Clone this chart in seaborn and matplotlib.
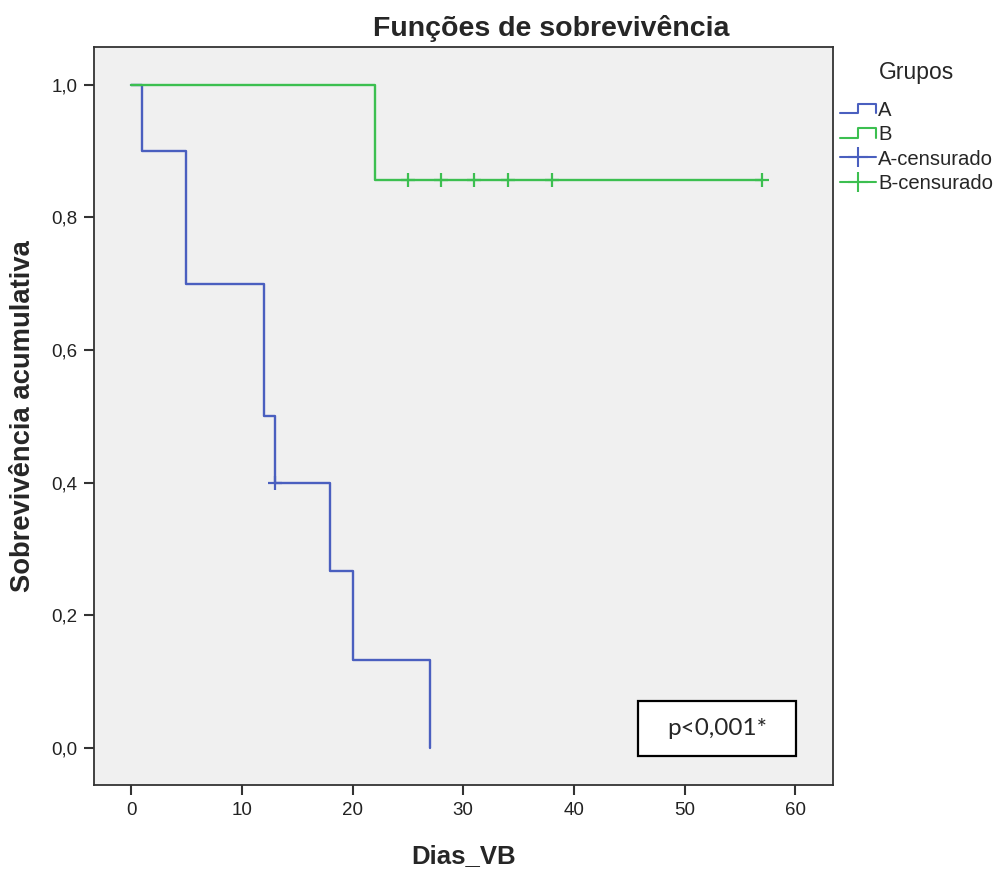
import matplotlib
matplotlib.use("Agg")
import matplotlib.pyplot as plt
import pandas as pd
import seaborn as sns
from matplotlib.legend_handler import HandlerBase
from matplotlib.lines import Line2D
from matplotlib.patches import Rectangle
from matplotlib.ticker import FuncFormatter

# Kaplan-Meier step points
a_time = [0, 1, 5, 12, 13, 18, 20, 27]
a_surv = [1.0, 0.9, 0.7, 0.5, 0.4, 0.267, 0.133, 0.0]
b_time = [0, 22, 57]
b_surv = [1.0, 0.857, 0.857]

# censored observations
a_cens_time = [13]
a_cens_surv = [0.4]
b_cens_time = [25, 28, 31, 34, 38, 57]
b_cens_surv = [0.857] * 6

x_ticks = [0, 10, 20, 30, 40, 50, 60]
y_ticks = [0.0, 0.2, 0.4, 0.6, 0.8, 1.0]

BLUE = "#4a5fbf"
GREEN = "#3cbf50"

steps = pd.concat([
    pd.DataFrame({"dias": a_time, "surv": a_surv, "grupo": "A"}),
    pd.DataFrame({"dias": b_time, "surv": b_surv, "grupo": "B"}),
])
cens = pd.concat([
    pd.DataFrame({"dias": a_cens_time, "surv": a_cens_surv, "grupo": "A"}),
    pd.DataFrame({"dias": b_cens_time, "surv": b_cens_surv, "grupo": "B"}),
])
palette = {"A": BLUE, "B": GREEN}

sns.set_style("white")
plt.rcParams["font.family"] = ["Liberation Sans", "DejaVu Sans"]

fig = plt.figure(figsize=(9.98, 8.71), dpi=100)
ax = fig.add_axes([0.0942, 0.0987, 0.7405, 0.8473])
ax.set_facecolor("#f0f0f0")

sns.lineplot(data=steps, x="dias", y="surv", hue="grupo", palette=palette,
             drawstyle="steps-post", estimator=None, linewidth=1.7,
             legend=False, ax=ax)
for g, col in palette.items():
    sub = cens[cens["grupo"] == g]
    ax.scatter(sub["dias"], sub["surv"], marker="+", s=110, color=col,
               linewidths=1.6, zorder=3)

ax.set_xlim(-3.35, 63.4)
ax.set_ylim(-0.056, 1.057)
ax.set_xticks(x_ticks)
ax.set_yticks(y_ticks)
ax.yaxis.set_major_formatter(FuncFormatter(lambda v, p: f"{v:.1f}".replace(".", ",")))
ax.tick_params(direction="out", length=7, width=1.5, color="#333333",
               labelsize=13.5, labelcolor="#222222", bottom=True, left=True, pad=5)
for s in ax.spines.values():
    s.set_color("#333333")
    s.set_linewidth(1.3)

ax.set_xlabel("Dias_VB", fontsize=18.5, fontweight="bold", labelpad=18)
ax.set_ylabel("Sobrevivência acumulativa", fontsize=19.7, fontweight="bold", labelpad=11)
fig.text(0.552, 0.967, "Funções de sobrevivência", fontsize=20.5, fontweight="bold",
         ha="center", va="center")

# p-value box
ax.add_patch(Rectangle((0.736, 0.0393), 0.214, 0.0745, transform=ax.transAxes,
                       facecolor="white", edgecolor="black", linewidth=1.6, zorder=4))
ax.text(0.843, 0.0766, "p<0,001*", transform=ax.transAxes, fontsize=17.5,
        family=["Lato", "DejaVu Sans"], ha="center", va="center", zorder=5)


class StepHandler(HandlerBase):
    def create_artists(self, legend, orig_handle, xdescent, ydescent,
                       width, height, fontsize, trans):
        x0, w = -xdescent, width
        y0, h = -ydescent, height
        xs = [x0, x0 + 0.5 * w, x0 + 0.5 * w, x0 + w, x0 + w]
        ys = [y0 + 0.15 * h, y0 + 0.15 * h, y0 + 0.85 * h, y0 + 0.85 * h, y0 + 0.15 * h]
        line = Line2D(xs, ys, color=orig_handle.get_color(), linewidth=1.5,
                      transform=trans)
        return [line]


h_a = Line2D([], [], color=BLUE)
h_b = Line2D([], [], color=GREEN)
h_ac = Line2D([], [], color=BLUE, marker="+", markersize=15, markeredgewidth=1.5, linewidth=1.5)
h_bc = Line2D([], [], color=GREEN, marker="+", markersize=15, markeredgewidth=1.5, linewidth=1.5)
leg = fig.legend([h_a, h_b, h_ac, h_bc], ["A", "B", "A-censurado", "B-censurado"],
                 handler_map={h_a: StepHandler(), h_b: StepHandler()},
                 loc="upper left", bbox_to_anchor=(0.836, 0.937), frameon=False,
                 title="Grupos", fontsize=14.6, title_fontsize=16.5,
                 handlelength=1.75, handletextpad=0.1, labelspacing=0.27,
                 borderaxespad=0, borderpad=0.3)
leg._legend_box.align = "center"
leg._legend_box.sep = 12

fig.savefig("out.png", dpi=100)
